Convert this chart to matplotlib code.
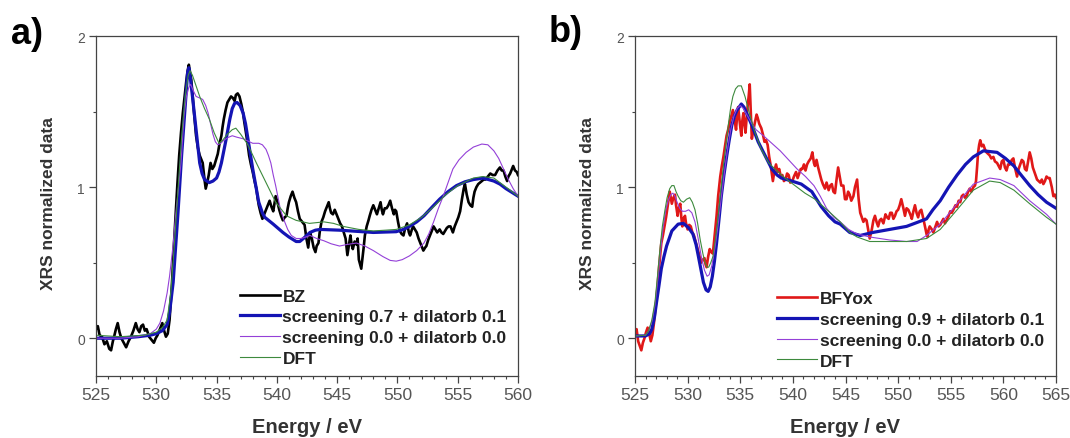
import numpy as np
import matplotlib
matplotlib.use("Agg")
import matplotlib.pyplot as plt
from matplotlib.ticker import MultipleLocator

plt.rcParams['font.family'] = ['Liberation Sans', 'DejaVu Sans']

# ---------------- Panel a data ----------------
bz_energy = [525.0, 525.15, 525.3, 525.5, 525.7, 525.9, 526.1, 526.25, 526.4, 526.5, 526.65, 526.8, 526.95,
             527.1, 527.3, 527.5, 527.7, 527.9, 528.1, 528.3, 528.45, 528.6, 528.75, 528.9, 529.05, 529.2,
             529.4, 529.6, 529.8, 529.95, 530.1, 530.3, 530.5, 530.65, 530.8, 530.95, 531.1, 531.3, 531.45,
             531.6, 531.75, 531.9, 532.05, 532.2, 532.35, 532.5, 532.6, 532.7, 532.8, 532.9, 533.0, 533.1,
             533.2, 533.3, 533.45, 533.6, 533.75, 533.85, 534.0, 534.1, 534.25, 534.35, 534.5, 534.65, 534.8,
             534.95, 535.1, 535.25, 535.4, 535.5, 535.6, 535.75, 535.9, 536.05, 536.2, 536.35, 536.5, 536.6,
             536.75, 536.9, 537.05, 537.2, 537.3, 537.4, 537.55, 537.7, 537.85, 538.0, 538.15, 538.3, 538.4,
             538.5, 538.65, 538.8, 538.95, 539.1, 539.25, 539.4, 539.55, 539.7, 539.8, 539.9, 540.05, 540.2,
             540.35, 540.5, 540.65, 540.8, 540.9, 541.0, 541.15, 541.3, 541.45, 541.6, 541.75, 541.9, 542.1,
             542.3, 542.45, 542.6, 542.75, 542.9, 543.05, 543.2, 543.3, 543.45, 543.55, 543.7, 543.85, 544.0,
             544.15, 544.3, 544.4, 544.5, 544.65, 544.8, 544.95, 545.1, 545.25, 545.4, 545.55, 545.7, 545.85,
             546.0, 546.1, 546.2, 546.3, 546.45, 546.6, 546.7, 546.8, 546.9, 547.0, 547.1, 547.2, 547.3,
             547.45, 547.6, 547.7, 547.85, 548.0, 548.15, 548.3, 548.45, 548.6, 548.7, 548.8, 548.95, 549.1,
             549.25, 549.4, 549.55, 549.7, 549.8, 549.9, 550.05, 550.2, 550.35, 550.5, 550.65, 550.8, 550.95,
             551.05, 551.2, 551.3, 551.45, 551.6, 551.75, 551.9, 552.05, 552.15, 552.3, 552.4, 552.55, 552.7,
             552.85, 553.0, 553.15, 553.3, 553.4, 553.5, 553.65, 553.8, 553.95, 554.1, 554.25, 554.4, 554.5,
             554.6, 554.75, 554.9, 555.05, 555.2, 555.35, 555.5, 555.6, 555.75, 555.9, 556.05, 556.2, 556.3,
             556.4, 556.55, 556.7, 556.85, 557.0, 557.15, 557.3, 557.5, 557.7, 557.9, 558.1, 558.3, 558.5,
             558.65, 558.8, 558.95, 559.1, 559.2, 559.35, 559.5, 559.6, 559.75, 559.9, 560.0]
bz_signal = [0.06, 0.08, 0.02, 0.01, -0.04, -0.02, -0.07, -0.08, -0.02, 0.01, 0.06, 0.10, 0.04,
             0.00, -0.03, -0.06, -0.02, 0.01, 0.05, 0.10, 0.06, 0.04, 0.08, 0.09, 0.05, 0.06,
             0.01, -0.01, -0.03, 0.00, 0.02, 0.06, 0.10, 0.05, 0.01, 0.03, 0.12, 0.36, 0.60,
             0.81, 1.02, 1.21, 1.36, 1.49, 1.60, 1.71, 1.77, 1.81, 1.76, 1.71, 1.62, 1.52,
             1.43, 1.34, 1.26, 1.21, 1.18, 1.16, 1.05, 0.99, 1.04, 1.08, 1.16, 1.12, 1.14,
             1.18, 1.22, 1.29, 1.34, 1.40, 1.45, 1.51, 1.56, 1.58, 1.60, 1.59, 1.57, 1.61,
             1.62, 1.60, 1.55, 1.49, 1.43, 1.38, 1.30, 1.21, 1.15, 1.10, 1.04, 0.99, 0.93,
             0.88, 0.83, 0.79, 0.82, 0.85, 0.88, 0.91, 0.87, 0.84, 0.89, 0.94, 0.90, 0.85,
             0.81, 0.78, 0.80, 0.81, 0.86, 0.90, 0.94, 0.97, 0.93, 0.90, 0.84, 0.79, 0.77,
             0.75, 0.66, 0.60, 0.70, 0.66, 0.60, 0.57, 0.61, 0.63, 0.70, 0.77, 0.80, 0.84,
             0.87, 0.90, 0.86, 0.83, 0.82, 0.85, 0.82, 0.79, 0.76, 0.74, 0.70, 0.66, 0.55,
             0.63, 0.68, 0.62, 0.59, 0.64, 0.62, 0.66, 0.52, 0.49, 0.46, 0.53, 0.60, 0.68,
             0.74, 0.78, 0.81, 0.85, 0.88, 0.85, 0.82, 0.86, 0.90, 0.85, 0.82, 0.86, 0.86,
             0.88, 0.91, 0.86, 0.82, 0.85, 0.84, 0.77, 0.71, 0.69, 0.68, 0.73, 0.76, 0.70,
             0.68, 0.72, 0.74, 0.72, 0.70, 0.66, 0.63, 0.60, 0.58, 0.60, 0.61, 0.65, 0.68,
             0.71, 0.74, 0.72, 0.70, 0.71, 0.72, 0.70, 0.69, 0.71, 0.73, 0.74, 0.74, 0.72,
             0.70, 0.74, 0.77, 0.80, 0.84, 0.92, 0.99, 1.02, 0.95, 0.90, 0.88, 0.87, 0.93,
             0.97, 1.00, 1.02, 1.03, 1.04, 1.05, 1.05, 1.07, 1.09, 1.08, 1.08, 1.11, 1.13,
             1.11, 1.11, 1.07, 1.04, 1.07, 1.09, 1.12, 1.14, 1.11, 1.10, 1.08]

a_scr07_energy = [525.0, 527.0, 528.5, 529.5, 530.0, 530.5, 530.9, 531.1, 531.4, 531.8, 532.1, 532.4, 532.6,
                  532.7, 532.8, 533.0, 533.3, 533.6, 533.8, 534.0, 534.4, 534.7, 535.0, 535.2, 535.4, 535.8,
                  536.1, 536.3, 536.5, 536.7, 536.95, 537.2, 537.4, 537.6, 538.0, 538.5, 538.8, 539.0, 539.7,
                  540.5, 541.0, 541.6, 541.9, 542.2, 542.75, 543.2, 543.6, 545.2, 548.0, 549.9, 550.5, 551.0,
                  551.6, 552.2, 552.9, 553.5, 554.2, 554.9, 555.6, 556.3, 557.1, 558.0, 558.5, 559.0, 559.5, 560.0]
a_scr07_signal = [0.0, 0.0, 0.01, 0.02, 0.03, 0.05, 0.09, 0.17, 0.37, 0.83, 1.21, 1.54, 1.76,
                  1.79, 1.74, 1.60, 1.38, 1.16, 1.09, 1.05, 1.03, 1.04, 1.06, 1.10, 1.16, 1.32,
                  1.45, 1.52, 1.555, 1.56, 1.54, 1.49, 1.42, 1.32, 1.12, 0.90, 0.83, 0.80, 0.755,
                  0.70, 0.67, 0.64, 0.64, 0.66, 0.70, 0.715, 0.72, 0.715, 0.70, 0.705, 0.72, 0.74,
                  0.77, 0.81, 0.87, 0.92, 0.97, 1.01, 1.035, 1.05, 1.06, 1.04, 1.02, 0.99, 0.965, 0.94]

a_scr00_energy = [525.0, 527.0, 528.5, 529.5, 530.0, 530.3, 530.6, 530.9, 531.1, 531.4, 531.6, 532.05, 532.3,
                  532.5, 532.7, 532.85, 533.0, 533.3, 533.6, 533.85, 534.1, 534.3, 534.5, 534.7, 534.9, 535.1,
                  535.35, 535.6, 536.0, 536.3, 536.7, 537.2, 538.0, 538.5, 538.8, 539.1, 539.3, 539.5, 539.7,
                  539.9, 540.1, 540.3, 540.6, 540.9, 541.2, 541.6, 542.0, 542.4, 542.75, 543.3, 543.9, 544.5,
                  545.2, 545.8, 546.6, 547.3, 548.0, 548.8, 549.4, 549.9, 550.4, 551.0, 551.6, 552.2, 552.6,
                  553.0, 553.4, 553.8, 554.2, 554.6, 555.1, 555.7, 556.3, 557.0, 557.5, 558.0, 558.4, 558.8,
                  559.2, 559.6, 560.0]
a_scr00_signal = [0.0, 0.0, 0.01, 0.03, 0.06, 0.10, 0.18, 0.30, 0.41, 0.62, 0.81, 1.16, 1.47,
                  1.60, 1.66, 1.68, 1.65, 1.60, 1.59, 1.58, 1.54, 1.49, 1.42, 1.35, 1.30, 1.28,
                  1.29, 1.31, 1.33, 1.34, 1.33, 1.32, 1.29, 1.29, 1.28, 1.25, 1.21, 1.16, 1.08,
                  1.01, 0.93, 0.85, 0.78, 0.72, 0.68, 0.66, 0.66, 0.67, 0.68, 0.66, 0.645, 0.625,
                  0.61, 0.62, 0.63, 0.61, 0.58, 0.54, 0.515, 0.51, 0.52, 0.545, 0.58, 0.63, 0.69,
                  0.77, 0.86, 0.94, 1.03, 1.12, 1.18, 1.23, 1.265, 1.285, 1.28, 1.24, 1.19, 1.12,
                  1.05, 0.99, 0.94]

a_dft_energy = [525.0, 527.0, 529.0, 530.0, 530.5, 530.9, 531.2, 531.5, 531.8, 532.1, 532.4, 532.65, 532.8,
                533.0, 533.3, 533.6, 534.0, 534.4, 534.8, 535.2, 535.5, 535.9, 536.3, 536.6, 537.0, 537.6,
                538.3, 539.1, 539.9, 540.8, 541.6, 542.7, 543.9, 544.7, 545.5, 546.8, 548.0, 549.0, 549.9,
                551.0, 552.0, 553.0, 554.0, 555.0, 556.3, 557.1, 558.0, 559.0, 560.0]
a_dft_signal = [0.02, 0.01, 0.02, 0.04, 0.07, 0.12, 0.30, 0.62, 0.98, 1.33, 1.60, 1.74, 1.77,
                1.74, 1.67, 1.60, 1.52, 1.45, 1.36, 1.29, 1.31, 1.35, 1.38, 1.39, 1.35, 1.28,
                1.16, 1.03, 0.90, 0.81, 0.78, 0.76, 0.77, 0.76, 0.74, 0.72, 0.71, 0.715, 0.72,
                0.75, 0.80, 0.87, 0.95, 1.01, 1.06, 1.07, 1.06, 1.00, 0.94]

# ---------------- Panel b data ----------------
bfy_energy = [525.0, 525.15, 525.3, 525.45, 525.6, 525.75, 525.9, 526.05, 526.2, 526.35, 526.5, 526.65, 526.8,
              526.95, 527.15, 527.3, 527.5, 527.65, 527.8, 527.95, 528.1, 528.2, 528.3, 528.4, 528.5, 528.65,
              528.8, 528.9, 529.05, 529.15, 529.3, 529.4, 529.5, 529.6, 529.75, 529.85, 530.0, 530.15, 530.3,
              530.45, 530.6, 530.8, 530.95, 531.1, 531.3, 531.45, 531.6, 531.7, 531.8, 531.95, 532.1, 532.25,
              532.4, 532.55, 532.75, 532.9, 533.1, 533.25, 533.4, 533.55, 533.7, 533.85, 534.0, 534.15, 534.3,
              534.45, 534.6, 534.7, 534.8, 534.95, 535.1, 535.2, 535.3, 535.4, 535.5, 535.65, 535.8, 535.9,
              536.0, 536.1, 536.25, 536.4, 536.55, 536.65, 536.8, 537.0, 537.15, 537.3, 537.45, 537.6, 537.75,
              537.9, 538.0, 538.1, 538.25, 538.4, 538.55, 538.7, 538.85, 539.0, 539.15, 539.3, 539.45, 539.6,
              539.75, 539.95, 540.1, 540.3, 540.45, 540.6, 540.75, 540.9, 541.05, 541.2, 541.35, 541.5, 541.7,
              541.85, 542.0, 542.1, 542.25, 542.4, 542.55, 542.7, 542.85, 543.05, 543.2, 543.4, 543.55, 543.7,
              543.85, 544.0, 544.15, 544.3, 544.45, 544.6, 544.8, 544.95, 545.1, 545.25, 545.4, 545.55, 545.75,
              545.9, 546.1, 546.25, 546.4, 546.55, 546.7, 546.85, 547.0, 547.15, 547.3, 547.4, 547.5, 547.65,
              547.8, 547.95, 548.1, 548.25, 548.4, 548.6, 548.8, 548.95, 549.1, 549.25, 549.4, 549.55, 549.7,
              549.85, 550.0, 550.15, 550.3, 550.5, 550.65, 550.8, 550.97, 551.15, 551.3, 551.45, 551.6, 551.75,
              551.9, 552.05, 552.2, 552.4, 552.55, 552.7, 552.8, 552.9, 553.0, 553.2, 553.35, 553.5, 553.7,
              553.85, 554.0, 554.15, 554.3, 554.45, 554.6, 554.8, 554.95, 555.1, 555.25, 555.45, 555.6, 555.75,
              555.9, 556.05, 556.2, 556.35, 556.5, 556.65, 556.8, 556.95, 557.15, 557.3, 557.4, 557.5, 557.6,
              557.7, 557.8, 557.95, 558.1, 558.25, 558.4, 558.55, 558.7, 558.85, 559.05, 559.2, 559.4, 559.55,
              559.7, 559.85, 560.0, 560.15, 560.3, 560.45, 560.6, 560.8, 560.95, 561.1, 561.3, 561.45, 561.6,
              561.75, 561.9, 562.05, 562.2, 562.35, 562.5, 562.65, 562.8, 563.0, 563.2, 563.35, 563.5, 563.65,
              563.8, 563.95, 564.1, 564.25, 564.4, 564.6, 564.75, 564.9, 565.0]
bfy_signal = [0.04, 0.06, -0.02, -0.05, -0.08, -0.03, 0.00, 0.04, 0.07, 0.03, -0.02, 0.02, 0.10,
              0.20, 0.35, 0.48, 0.63, 0.68, 0.74, 0.80, 0.87, 0.92, 0.97, 0.93, 0.89, 0.93,
              0.95, 0.88, 0.81, 0.86, 0.89, 0.80, 0.74, 0.79, 0.81, 0.76, 0.72, 0.75, 0.74,
              0.70, 0.68, 0.63, 0.59, 0.55, 0.50, 0.52, 0.53, 0.49, 0.47, 0.54, 0.59, 0.57,
              0.56, 0.67, 0.81, 0.94, 1.07, 1.14, 1.20, 1.27, 1.34, 1.38, 1.43, 1.47, 1.51,
              1.45, 1.38, 1.47, 1.53, 1.43, 1.34, 1.44, 1.49, 1.42, 1.36, 1.50, 1.60, 1.68,
              1.50, 1.32, 1.38, 1.43, 1.48, 1.46, 1.42, 1.39, 1.35, 1.30, 1.31, 1.28, 1.20,
              1.14, 1.09, 1.04, 1.11, 1.15, 1.10, 1.12, 1.07, 1.08, 1.04, 1.05, 1.09, 1.08,
              1.03, 1.04, 1.07, 1.10, 1.06, 1.09, 1.12, 1.12, 1.15, 1.11, 1.15, 1.17, 1.19,
              1.23, 1.16, 1.14, 1.18, 1.13, 1.09, 1.05, 1.02, 0.99, 1.03, 0.98, 1.01, 1.02,
              0.97, 0.96, 1.05, 1.13, 1.07, 1.01, 1.01, 0.92, 0.92, 0.97, 0.95, 0.91, 0.94,
              1.00, 1.05, 0.92, 0.83, 0.80, 0.77, 0.79, 0.78, 0.72, 0.66, 0.69, 0.72, 0.78,
              0.81, 0.77, 0.74, 0.78, 0.79, 0.76, 0.82, 0.80, 0.79, 0.83, 0.83, 0.79, 0.81,
              0.84, 0.85, 0.88, 0.92, 0.86, 0.81, 0.86, 0.85, 0.82, 0.79, 0.84, 0.88, 0.83,
              0.80, 0.84, 0.85, 0.79, 0.74, 0.69, 0.67, 0.72, 0.74, 0.72, 0.70, 0.73, 0.77,
              0.74, 0.75, 0.77, 0.79, 0.76, 0.78, 0.81, 0.84, 0.83, 0.85, 0.88, 0.87, 0.91,
              0.90, 0.94, 0.95, 0.93, 0.94, 0.97, 0.99, 0.97, 1.00, 1.01, 1.04, 1.13, 1.23,
              1.28, 1.31, 1.27, 1.28, 1.25, 1.23, 1.22, 1.21, 1.19, 1.20, 1.17, 1.16, 1.14,
              1.12, 1.17, 1.18, 1.13, 1.11, 1.15, 1.15, 1.18, 1.19, 1.13, 1.07, 1.12, 1.15,
              1.18, 1.17, 1.12, 1.11, 1.17, 1.23, 1.19, 1.13, 1.09, 1.05, 1.04, 1.03, 1.05,
              1.02, 1.04, 1.07, 1.06, 1.06, 1.00, 0.94, 0.95, 0.93]

b_scr09_energy = [525.0, 526.0, 526.4, 526.6, 526.85, 527.05, 527.3, 527.5, 527.75, 528.0, 528.5, 529.1, 529.6,
                  530.1, 530.5, 530.8, 531.0, 531.25, 531.5, 531.75, 531.95, 532.15, 532.35, 532.55, 532.75,
                  533.0, 533.2, 533.45, 533.7, 533.95, 534.2, 534.45, 534.7, 535.1, 535.35, 535.6, 536.1,
                  536.7, 537.35, 538.0, 538.5, 538.9, 539.9, 540.8, 541.8, 542.7, 543.4, 544.0, 544.5, 545.4,
                  546.4, 547.6, 549.2, 550.8, 551.8, 552.7, 553.3, 554.0, 554.8, 555.6, 556.4, 557.15, 558.1,
                  559.4, 560.2, 561.0, 561.8, 562.5, 563.3, 564.1, 565.0]
b_scr09_signal = [0.015, 0.015, 0.03, 0.06, 0.14, 0.24, 0.36, 0.46, 0.54, 0.61, 0.71, 0.755, 0.76,
                  0.73, 0.69, 0.62, 0.55, 0.46, 0.37, 0.32, 0.31, 0.34, 0.41, 0.51, 0.63,
                  0.80, 0.94, 1.08, 1.20, 1.31, 1.41, 1.47, 1.51, 1.55, 1.53, 1.49, 1.41,
                  1.30, 1.21, 1.12, 1.08, 1.06, 1.04, 1.02, 0.97, 0.87, 0.81, 0.77, 0.755, 0.70,
                  0.68, 0.70, 0.72, 0.74, 0.766, 0.79, 0.85, 0.91, 1.00, 1.08, 1.15, 1.20, 1.24,
                  1.23, 1.19, 1.14, 1.07, 1.01, 0.95, 0.90, 0.86]

b_scr00_energy = [525.0, 526.0, 526.3, 526.6, 526.9, 527.15, 527.4, 527.65, 527.9, 528.15, 528.4, 528.6, 528.8,
                  529.0, 529.25, 529.5, 529.8, 530.1, 530.4, 530.7, 531.0, 531.3, 531.6, 531.85, 532.05, 532.3,
                  532.6, 532.9, 533.2, 533.5, 533.8, 534.1, 534.4, 534.7, 535.0, 535.3, 535.7, 536.1, 536.5,
                  537.2, 538.0, 538.8, 539.6, 540.4, 541.2, 542.0, 542.6, 543.2, 543.9, 544.5, 545.3, 546.1,
                  547.3, 549.2, 550.8, 551.8, 552.7, 554.0, 555.6, 557.15, 558.7, 559.7, 561.0, 562.5, 564.1, 565.0]
b_scr00_signal = [0.015, 0.02, 0.05, 0.11, 0.22, 0.38, 0.56, 0.72, 0.84, 0.91, 0.95, 0.96, 0.94,
                  0.90, 0.86, 0.84, 0.84, 0.85, 0.83, 0.77, 0.66, 0.54, 0.45, 0.41, 0.42, 0.48,
                  0.60, 0.75, 0.93, 1.10, 1.25, 1.38, 1.47, 1.52, 1.54, 1.52, 1.47, 1.42, 1.38,
                  1.34, 1.29, 1.24, 1.18, 1.12, 1.07, 1.01, 0.94, 0.86, 0.80, 0.77, 0.72, 0.69,
                  0.67, 0.65, 0.64, 0.64, 0.68, 0.755, 0.89, 1.02, 1.06, 1.05, 1.01, 0.91, 0.82, 0.755]

b_dft_energy = [525.0, 526.0, 526.3, 526.6, 526.9, 527.15, 527.4, 527.6, 527.85, 528.05, 528.3, 528.5, 528.7,
                528.9, 529.1, 529.35, 529.6, 529.9, 530.2, 530.45, 530.7, 530.95, 531.2, 531.45, 531.65, 531.85,
                532.0, 532.2, 532.4, 532.65, 532.9, 533.15, 533.4, 533.65, 533.9, 534.1, 534.3, 534.55, 534.8,
                535.1, 535.45, 535.9, 536.4, 537.0, 537.7, 538.3, 539.25, 540.2, 541.15, 542.1, 543.4, 544.5,
                545.4, 546.1, 547.3, 549.2, 550.8, 552.7, 554.0, 555.6, 557.15, 558.7, 559.7, 561.0, 562.5,
                564.1, 565.0]
b_dft_signal = [0.015, 0.02, 0.05, 0.12, 0.24, 0.42, 0.61, 0.74, 0.85, 0.93, 0.99, 1.01, 1.01,
                0.97, 0.94, 0.91, 0.90, 0.92, 0.93, 0.90, 0.85, 0.76, 0.65, 0.56, 0.50, 0.47,
                0.47, 0.50, 0.54, 0.66, 0.81, 0.98, 1.14, 1.29, 1.43, 1.53, 1.60, 1.65, 1.67,
                1.67, 1.60, 1.48, 1.36, 1.25, 1.16, 1.12, 1.06, 1.01, 0.96, 0.92, 0.84, 0.77,
                0.70, 0.67, 0.64, 0.64, 0.64, 0.66, 0.72, 0.85, 0.98, 1.04, 1.03, 0.98, 0.89,
                0.80, 0.755]

# labels
a_labels = ['BZ', 'screening 0.7 + dilatorb 0.1', 'screening 0.0 + dilatorb 0.0', 'DFT']
b_labels = ['BFYox', 'screening 0.9 + dilatorb 0.1', 'screening 0.0 + dilatorb 0.0', 'DFT']
x_label = 'Energy / eV'
y_label = 'XRS normalized data'

# ---------------- Figure ----------------
W, H = 1070, 439
fig = plt.figure(figsize=(W / 100, H / 100), dpi=100)

def px_axes(left, top, right, bottom):
    return fig.add_axes([left / W, 1 - bottom / H, (right - left) / W, (bottom - top) / H])

ax_a = px_axes(96, 37, 518, 377)
ax_b = px_axes(635, 37, 1056, 377)

c_blue = '#1414b4'
c_purple = '#9440d8'
c_green = '#3d8a3d'

ax_a.plot(bz_energy, bz_signal, color='black', lw=1.9, label=a_labels[0])
ax_a.plot(a_scr07_energy, a_scr07_signal, color=c_blue, lw=2.3, label=a_labels[1])
ax_a.plot(a_scr00_energy, a_scr00_signal, color=c_purple, lw=0.8, label=a_labels[2])
ax_a.plot(a_dft_energy, a_dft_signal, color=c_green, lw=0.8, label=a_labels[3])

ax_b.plot(bfy_energy, bfy_signal, color='#e01818', lw=1.9, label=b_labels[0])
ax_b.plot(b_scr09_energy, b_scr09_signal, color=c_blue, lw=2.3, label=b_labels[1])
ax_b.plot(b_scr00_energy, b_scr00_signal, color=c_purple, lw=0.8, label=b_labels[2])
ax_b.plot(b_dft_energy, b_dft_signal, color=c_green, lw=0.8, label=b_labels[3])

for ax, xmax, leg_x, leg_y in [(ax_a, 560, 0.341, 0.03), (ax_b, 565, 0.338, 0.022)]:
    ax.set_xlim(525, xmax)
    ax.set_ylim(-0.25, 2)
    ax.xaxis.set_major_locator(MultipleLocator(5))
    ax.xaxis.set_minor_locator(MultipleLocator(1))
    ax.yaxis.set_major_locator(MultipleLocator(1))
    ax.yaxis.set_minor_locator(MultipleLocator(0.5))
    ax.tick_params(axis='both', which='major', direction='out', length=5, width=0.9,
                   color='#444444', labelcolor='#555555')
    ax.tick_params(axis='both', which='minor', direction='out', length=2.5, width=0.8, color='#444444')
    ax.tick_params(axis='x', which='major', labelsize=12.5, pad=3)
    ax.tick_params(axis='y', which='major', labelsize=10, pad=3)
    for s in ax.spines.values():
        s.set_color('#444444')
        s.set_linewidth(0.9)
    ax.set_xlabel(x_label, fontsize=14.5, fontweight='bold', color='#333333')
    ax.xaxis.set_label_coords(0.5, -0.122)
    ax.set_ylabel(y_label, fontsize=12.5, fontweight='bold', color='#333333')
    ax.yaxis.set_label_coords(-0.094, 0.51)
    leg = ax.legend(loc='lower left', bbox_to_anchor=(leg_x, leg_y), frameon=False,
                    prop={'family': 'Liberation Sans', 'weight': 'bold', 'size': 12.5},
                    handlelength=2.3, handletextpad=0.15, labelspacing=0.32,
                    borderpad=0, borderaxespad=0)
    for t in leg.get_texts():
        t.set_color('#222222')

fig.text(27 / W, 1 - 35 / H, 'a)', fontsize=26, fontweight='bold', ha='center', va='center')
fig.text(566 / W, 1 - 33 / H, 'b)', fontsize=26, fontweight='bold', ha='center', va='center')

fig.savefig('out.png', dpi=100)
